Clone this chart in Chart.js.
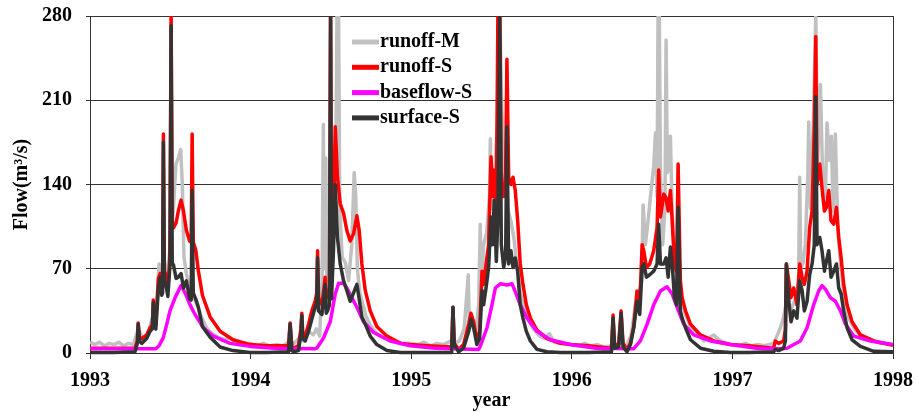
<!DOCTYPE html>
<html>
<head>
<meta charset="utf-8">
<script src="https://cdn.jsdelivr.net/npm/chart.js@4.4.1/dist/chart.umd.min.js"></script>
<style>
  html, body { margin: 0; padding: 0; background: #fff; }
  #wrap { width: 918px; height: 413px; }
</style>
</head>
<body>
<div id="wrap"><canvas id="flowChart" width="918" height="413"></canvas></div>
<script>
const FONT_FAMILY = "'Liberation Serif', 'Times New Roman', serif";

const yearTicks = [1993, 1994, 1995, 1996, 1997, 1998];
const flowTicks = [0, 70, 140, 210, 280];

// simulated runoff and surface flow share the same time steps (decimal year)
const sTime = [
  1993.000, 1993.150, 1993.280, 1993.295, 1993.300, 1993.308, 1993.322, 1993.353, 1993.374, 1993.388, 1993.394, 1993.400, 1993.410, 1993.426, 1993.437, 1993.447, 1993.452, 1993.457, 1993.463, 1993.472, 1993.485, 1993.498, 1993.505, 1993.512, 1993.520, 1993.536, 1993.550, 1993.567, 1993.582, 1993.600, 1993.620, 1993.630, 1993.636, 1993.643, 1993.658, 1993.675, 1993.700, 1993.748, 1993.810, 1993.890, 1993.997,
  1994.100, 1994.236, 1994.246, 1994.257, 1994.267, 1994.298, 1994.313, 1994.319, 1994.325, 1994.340, 1994.361, 1994.381, 1994.402, 1994.412, 1994.417, 1994.423, 1994.444, 1994.458, 1994.464, 1994.471, 1994.479, 1994.491, 1994.498, 1994.504, 1994.516, 1994.527, 1994.541, 1994.558, 1994.579, 1994.599, 1994.620, 1994.641, 1994.662, 1994.676, 1994.693, 1994.714, 1994.745, 1994.786, 1994.849, 1994.932, 1994.994,
  1995.100, 1995.252, 1995.260, 1995.268, 1995.295, 1995.326, 1995.358, 1995.372, 1995.389, 1995.409, 1995.426, 1995.441, 1995.451, 1995.466, 1995.482, 1995.497, 1995.507, 1995.517, 1995.530, 1995.540, 1995.551, 1995.561, 1995.576, 1995.588, 1995.596, 1995.607, 1995.621, 1995.634, 1995.648, 1995.663, 1995.679, 1995.696, 1995.717, 1995.742, 1995.783, 1995.846, 1995.929, 1995.991,
  1996.100, 1996.247, 1996.257, 1996.267, 1996.292, 1996.307, 1996.319, 1996.344, 1996.365, 1996.386, 1996.406, 1996.423, 1996.438, 1996.448, 1996.465, 1996.485, 1996.510, 1996.531, 1996.541, 1996.552, 1996.573, 1996.587, 1996.600, 1996.614, 1996.625, 1996.639, 1996.652, 1996.662, 1996.676, 1996.687, 1996.708, 1996.739, 1996.801, 1996.884, 1996.988,
  1997.100, 1997.257, 1997.267, 1997.288, 1997.319, 1997.330, 1997.336, 1997.351, 1997.365, 1997.382, 1997.402, 1997.419, 1997.434, 1997.448, 1997.465, 1997.481, 1997.496, 1997.510, 1997.519, 1997.527, 1997.544, 1997.558, 1997.573, 1997.585, 1997.600, 1997.614, 1997.631, 1997.648, 1997.662, 1997.677, 1997.693, 1997.714, 1997.745, 1997.797, 1997.880, 1998.000,
];

const runoffS = [
  4, 4, 4, 10, 25, 13, 12, 15, 21, 23, 44, 25, 24, 62, 66, 52, 55, 182, 68, 65, 55, 80, 285, 110, 104, 108, 118, 127, 118, 102, 93, 92, 182, 92, 86, 68, 48, 30, 18, 11, 7,
  6, 6, 25, 5, 4, 6, 20, 33, 15, 14, 24, 35, 43, 50, 85, 46, 40, 55, 63, 46, 46, 54, 285, 90, 110, 188, 146, 124, 116, 102, 93, 99, 114, 102, 74, 52, 35, 22, 14, 8, 7,
  6, 5, 38, 8, 3, 7, 24, 33, 26, 10, 18, 68, 57, 74, 90, 163, 130, 152, 118, 285, 290, 140, 130, 150, 244, 146, 140, 146, 135, 110, 74, 57, 40, 29, 19, 12, 8, 7,
  6, 4, 31.5, 5, 8, 35, 8, 3, 8, 22, 51.5, 40, 90, 85, 71, 74, 85, 104, 152, 113, 132, 129, 118, 135, 110, 74, 68, 157, 60, 46, 35, 24, 15, 10, 7,
  6, 4, 10, 8, 10, 20, 74, 60, 46, 54, 40, 74, 63, 57, 68, 104, 118, 188, 263, 140, 157, 137, 118, 121, 135, 110, 107, 121, 96, 79, 57, 40, 26, 15, 10, 6.5,
];

const surfaceS = [
  0.5, 0.5, 1, 8, 24, 10, 8, 12, 18, 20, 42, 22, 20, 54, 63, 48, 50, 175, 60, 57, 47, 73, 272, 75, 73, 62, 63, 66, 54, 60, 45, 44, 135, 50, 45, 38, 22, 13, 5, 2, 0.5,
  0.5, 1, 24, 2, 1, 2, 15, 31, 12, 10, 18, 28, 38, 42, 79, 35, 32, 50, 57, 33, 35, 40, 285, 45, 85, 140, 96, 74, 60, 52, 43, 50, 57, 45, 30, 24, 14, 7, 2, 0.5, 0.5,
  0.5, 0.5, 38, 7, 1, 4, 18, 28, 21, 7, 12, 52, 40, 54, 71, 113, 90, 127, 76, 113, 290, 90, 71, 80, 188, 74, 85, 71, 79, 68, 40, 29, 18, 10, 3, 1, 0.5, 0.5,
  0.5, 1, 29, 4, 5, 33, 5, 1, 7, 21, 43, 32, 71, 74, 63, 65, 68, 74, 107, 74, 74, 79, 63, 88, 74, 46, 40, 121, 35, 29, 21, 11, 4, 1.4, 0.5,
  0.5, 1, 3, 2, 4, 10, 74, 43, 26, 35, 29, 60, 52, 35, 43, 65, 74, 90, 213, 90, 96, 85, 68, 76, 85, 63, 68, 74, 54, 49, 35, 21, 11, 5.5, 1.4, 1,
];

const bTime = [
  1993.000, 1993.410, 1993.430, 1993.457, 1993.480, 1993.498, 1993.530, 1993.567, 1993.592, 1993.623, 1993.654, 1993.706, 1993.768, 1993.872, 1993.997,
  1994.150, 1994.400, 1994.412, 1994.454, 1994.496, 1994.527, 1994.548, 1994.579, 1994.599, 1994.630, 1994.662, 1994.703, 1994.766, 1994.869, 1994.994,
  1995.150, 1995.420, 1995.430, 1995.472, 1995.503, 1995.524, 1995.555, 1995.596, 1995.628, 1995.648, 1995.679, 1995.721, 1995.783, 1995.866, 1995.991,
  1996.150, 1996.386, 1996.427, 1996.469, 1996.510, 1996.552, 1996.593, 1996.625, 1996.656, 1996.697, 1996.760, 1996.863, 1996.988,
  1997.150, 1997.299, 1997.340, 1997.382, 1997.423, 1997.465, 1997.506, 1997.537, 1997.558, 1997.579, 1997.610, 1997.641, 1997.673, 1997.704, 1997.756, 1997.860, 1998.000,
];

const baseflowS = [
  3.5, 3.5, 6, 13, 25, 35, 46, 56, 50, 40, 32, 21, 14, 8, 5.5,
  4, 3.5, 4, 12.5, 26, 49, 58, 58, 54, 46, 38, 26, 17, 10, 6,
  4, 3, 5.5, 21, 40, 54, 57.5, 56.5, 57.5, 51, 40, 29, 18, 11, 7,
  4, 3.6, 10, 24, 40, 51.5, 55, 49, 38, 24, 15, 10, 7,
  4, 3.5, 4, 7, 10, 21, 40, 51.5, 56, 53, 46, 43, 35, 24, 14, 10, 7,
];

const mTime = [
  1993.00, 1993.03, 1993.06, 1993.09, 1993.12, 1993.15, 1993.18, 1993.21, 1993.24, 1993.27, 1993.30, 1993.33, 1993.36, 1993.39, 1993.41, 1993.43, 1993.445, 1993.46, 1993.48, 1993.50, 1993.52, 1993.535, 1993.55, 1993.565, 1993.575, 1993.585, 1993.60, 1993.62, 1993.64, 1993.66, 1993.68, 1993.70, 1993.73, 1993.76, 1993.80, 1993.84, 1993.87, 1993.90, 1993.95,
  1994.00, 1994.04, 1994.08, 1994.12, 1994.16, 1994.20, 1994.246, 1994.27, 1994.30, 1994.33, 1994.36, 1994.39, 1994.41, 1994.43, 1994.445, 1994.453, 1994.46, 1994.468, 1994.475, 1994.49, 1994.51, 1994.53, 1994.538, 1994.548, 1994.555, 1994.57, 1994.59, 1994.61, 1994.63, 1994.645, 1994.655, 1994.665, 1994.68, 1994.70, 1994.72, 1994.75, 1994.78, 1994.82, 1994.86, 1994.90, 1994.95,
  1995.00, 1995.04, 1995.08, 1995.12, 1995.16, 1995.20, 1995.25, 1995.27, 1995.30, 1995.33, 1995.355, 1995.362, 1995.38, 1995.40, 1995.42, 1995.43, 1995.437, 1995.45, 1995.47, 1995.487, 1995.493, 1995.50, 1995.52, 1995.54, 1995.555, 1995.565, 1995.58, 1995.60, 1995.62, 1995.64, 1995.66, 1995.68, 1995.70, 1995.73, 1995.76, 1995.80, 1995.83, 1995.86, 1995.89, 1995.94,
  1996.00, 1996.04, 1996.08, 1996.12, 1996.16, 1996.20, 1996.25, 1996.30, 1996.34, 1996.37, 1996.396, 1996.417, 1996.435, 1996.444, 1996.458, 1996.475, 1996.490, 1996.510, 1996.521, 1996.531, 1996.537, 1996.545, 1996.552, 1996.566, 1996.580, 1996.587, 1996.595, 1996.605, 1996.614, 1996.625, 1996.645, 1996.676, 1996.708, 1996.739, 1996.780, 1996.822, 1996.884, 1996.926, 1996.988,
  1997.00, 1997.04, 1997.08, 1997.12, 1997.16, 1997.20, 1997.257, 1997.28, 1997.299, 1997.319, 1997.34, 1997.361, 1997.392, 1997.412, 1997.419, 1997.426, 1997.440, 1997.454, 1997.470, 1997.475, 1997.486, 1997.506, 1997.519, 1997.531, 1997.548, 1997.562, 1997.579, 1997.589, 1997.604, 1997.616, 1997.627, 1997.641, 1997.656, 1997.673, 1997.693, 1997.724, 1997.756, 1997.797, 1997.860, 1997.922, 1998.00,
];

const runoffM = [
  9, 7, 9, 6, 8, 7, 9, 6, 8, 7, 20, 12, 16, 30, 28, 74, 55, 80, 60, 90, 121, 157, 162, 169, 140, 80, 66, 55, 48, 42, 35, 28, 20, 16, 13, 11, 13, 9, 8,
  8, 6, 8, 6, 7, 6, 10, 8, 12, 10, 18, 15, 20, 14, 60, 190, 70, 162, 60, 90, 110, 150, 282, 282, 120, 80, 75, 60, 90, 150, 130, 70, 50, 40, 30, 22, 17, 13, 12, 10, 8,
  8, 7, 9, 6, 8, 7, 10, 8, 10, 20, 65, 20, 24, 15, 40, 107, 50, 90, 100, 130, 178, 120, 150, 200, 260, 200, 150, 120, 110, 95, 70, 50, 38, 28, 20, 14, 12, 16, 9, 8,
  7, 6, 8, 6, 7, 5, 6, 8, 6, 15, 40, 49, 60, 123, 90, 110, 130, 155, 183, 130, 280, 282, 150, 90, 120, 260, 150, 154, 180, 118, 63, 46, 32, 22, 17, 10, 15, 10, 7,
  7, 6, 8, 6, 7, 6, 8, 15, 21, 30, 45, 35, 45, 60, 146, 70, 75, 90, 150, 192, 120, 200, 282, 160, 223, 146, 130, 191, 160, 180, 118, 182, 104, 74, 49, 29, 21, 15, 11, 8, 7,
];

function toPoints(times, values) {
  return times.map((t, i) => ({ x: t, y: values[i] }));
}

function lineDataset(label, color, points, order) {
  return {
    label: label,
    data: points,
    borderColor: color,
    backgroundColor: color,
    borderWidth: 3.5,
    borderJoinStyle: "round",
    pointRadius: 0,
    tension: 0,
    fill: false,
    order: order,
    clip: { left: 0, top: 0, right: 0, bottom: 3 },
  };
}

// legend sits inside the plot, drawn by hand like the original figure
const insideLegend = {
  id: "insideLegend",
  beforeDatasetsDraw(chart) {
    const area = chart.chartArea;
    const ctx = chart.ctx;
    ctx.save();
    ctx.strokeStyle = "#333";
    ctx.lineWidth = 1;
    ctx.beginPath();
    ctx.moveTo(area.right + 0.5, area.top);
    ctx.lineTo(area.right + 0.5, area.bottom + 6);
    ctx.stroke();
    ctx.restore();
  },
  afterDatasetsDraw(chart) {
    const ctx = chart.ctx;
    const left = 352;
    const top = 42;
    const row = 25.3;
    ctx.save();
    ctx.font = "bold 20px " + FONT_FAMILY;
    ctx.textBaseline = "middle";
    chart.data.datasets.forEach((ds, i) => {
      const y = top + i * row;
      ctx.strokeStyle = ds.borderColor;
      ctx.lineWidth = 5;
      ctx.beginPath();
      ctx.moveTo(left, y);
      ctx.lineTo(left + 27, y);
      ctx.stroke();
      ctx.fillStyle = "#000";
      ctx.fillText(ds.label, left + 28, y);
    });
    ctx.restore();
  },
};

const ctx = document.getElementById("flowChart").getContext("2d");
new Chart(ctx, {
  type: "line",
  data: {
    datasets: [
      lineDataset("runoff-M", "#c0c0c0", toPoints(mTime, runoffM), 4),
      lineDataset("runoff-S", "#ff0000", toPoints(sTime, runoffS), 3),
      lineDataset("baseflow-S", "#ff00ff", toPoints(bTime, baseflowS), 2),
      lineDataset("surface-S", "#333333", toPoints(sTime, surfaceS), 1),
    ],
  },
  options: {
    responsive: false,
    animation: false,
    layout: { padding: { top: 16, right: 25, left: 0, bottom: 0 } },
    plugins: {
      legend: { display: false },
      tooltip: { enabled: false },
    },
    scales: {
      x: {
        type: "linear",
        min: yearTicks[0],
        max: yearTicks[yearTicks.length - 1],
        afterBuildTicks: (scale) => {
          scale.ticks = yearTicks.map((v) => ({ value: v }));
        },
        afterFit: (scale) => {
          scale.height = 60;
          scale.paddingLeft = 0;
          scale.paddingRight = 0;
        },
        ticks: {
          callback: (v) => String(v),
          color: "#000",
          padding: 10,
          maxRotation: 0,
          font: { family: FONT_FAMILY, size: 20, weight: "bold" },
        },
        grid: { drawOnChartArea: false, drawTicks: true, tickLength: 6, color: "#333" },
        border: { display: true, color: "#333", width: 1 },
        title: {
          display: true,
          text: "year",
          color: "#000",
          padding: { top: 0, bottom: 0 },
          font: { family: FONT_FAMILY, size: 20, weight: "bold" },
        },
      },
      y: {
        type: "linear",
        min: flowTicks[0],
        max: flowTicks[flowTicks.length - 1],
        afterBuildTicks: (scale) => {
          scale.ticks = flowTicks.map((v) => ({ value: v }));
        },
        afterFit: (scale) => {
          scale.width = 90;
          scale.paddingTop = 0;
          scale.paddingBottom = 0;
        },
        ticks: {
          callback: (v) => String(v),
          color: "#000",
          padding: 14,
          font: { family: FONT_FAMILY, size: 20, weight: "bold" },
        },
        grid: { color: "#333", lineWidth: 1, drawTicks: true, tickLength: 4 },
        border: { display: true, color: "#333", width: 1 },
        title: {
          display: true,
          text: "Flow(m³/s)",
          color: "#000",
          padding: { top: 10, bottom: 0 },
          font: { family: FONT_FAMILY, size: 20, weight: "bold" },
        },
      },
    },
  },
  plugins: [insideLegend],
});
</script>
</body>
</html>
